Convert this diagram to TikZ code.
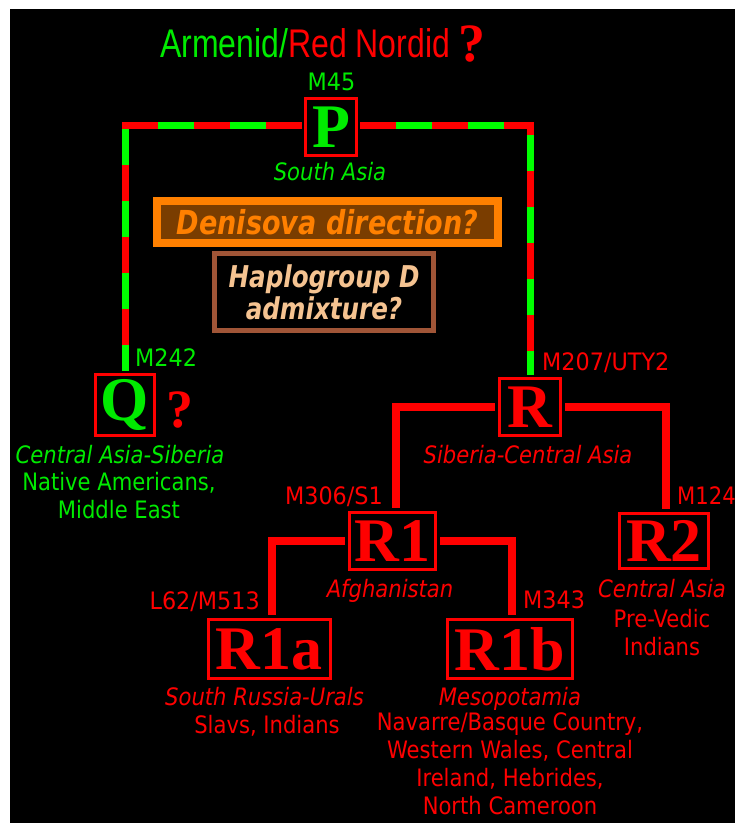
\documentclass[tikz,border=0pt]{standalone}
\usepackage{fontspec}
\setmainfont{DejaVu Sans}
\newfontfamily\labf{DejaVu Sans}[FakeStretch=0.88]
\newfontfamily\mutf{DejaVu Sans}[FakeStretch=0.93]
\newfontfamily\boldf{DejaVu Sans}[FakeStretch=0.82]
\newfontfamily\titf{Liberation Sans}[FakeStretch=0.8]
\newfontfamily\serf{Liberation Serif}
\definecolor{lgreen}{RGB}{0,255,0}
\definecolor{tgreen}{RGB}{0,235,0}
\definecolor{lred}{RGB}{255,0,0}
\definecolor{dorange}{RGB}{255,128,0}
\definecolor{dbrown}{RGB}{122,61,0}
\definecolor{hbrown}{RGB}{160,85,55}
\definecolor{htan}{RGB}{245,195,145}
\begin{document}
\begin{tikzpicture}[x=1pt,y=-1pt,
  hbox/.style={draw=lred, line width=3pt, inner sep=0pt,
    font=\serf\bfseries\fontsize{62}{62}\selectfont},
  lab/.style={font=\labf\fontsize{24}{28}\selectfont, anchor=base, inner sep=0pt, align=center},
  ilab/.style={lab, font=\labf\itshape\fontsize{24}{28}\selectfont},
  mlab/.style={lab, font=\mutf\fontsize{24}{28}\selectfont},
  dline/.style={line width=7pt, line cap=butt, line join=miter, shorten <=2pt, shorten >=2pt},
  reddash/.style={dline, draw=lred},
  greendash/.style={dline, draw=lgreen, dash pattern=on 36pt off 36pt, dash phase=36pt},
  tline/.style={draw=lred, line width=8pt, line cap=butt, line join=miter,
    shorten <=3pt, shorten >=3pt},
  qmark/.style={font=\serf\bfseries\fontsize{54}{54}\selectfont, text=lred, inner sep=0pt, anchor=base}
]
\useasboundingbox (0,0) rectangle (735,823);
\fill[white] (0,0) rectangle (735,823);
\fill[black] (10,9) rectangle (735,823);

% title
\node[anchor=base west, inner sep=0pt, font=\titf\fontsize{40}{40}\selectfont] (title) at (160,57)
  {\textcolor{tgreen}{Armenid/}\textcolor{lred}{Red Nordid}};
\node[qmark] (tq) at (471.5,61) {?};

% haplogroup boxes
\node[hbox, minimum width=51pt, minimum height=57pt, text=tgreen] (P) at (331,127) {P};
\node[hbox, minimum width=59pt, minimum height=61pt, text=tgreen] (Q) at (125,405) {Q};
\node[hbox, minimum width=61pt, minimum height=57pt, text=lred] (R) at (530,407) {R};
\node[hbox, minimum width=86pt, minimum height=57pt, text=lred] (R1) at (392.5,541) {R1};
\node[hbox, minimum width=89pt, minimum height=55pt, text=lred] (R2) at (664,541) {R2};
\node[hbox, minimum width=122pt, minimum height=59pt, text=lred] (R1a) at (269,649) {R1a};
\node[hbox, minimum width=125pt, minimum height=59pt, text=lred] (R1b) at (510,649) {R1b};

% question boxes
\node[draw=dorange, fill=dbrown, line width=8pt, minimum width=341pt, minimum height=42pt,
  inner sep=0pt, text=dorange, font=\boldf\bfseries\itshape\fontsize{33}{33}\selectfont]
  (den) at (327.5,222) {Denisova direction?};
\node[draw=hbrown, fill=black, line width=5pt, minimum width=219pt, minimum height=77pt,
  inner sep=0pt, text=htan, align=center, font=\boldf\bfseries\itshape\fontsize{30}{32}\selectfont]
  (hap) at (324,292) {Haplogroup D\\admixture?};

% dashed connectors P -> Q, P -> R
\coordinate (pl) at (125.5,125);
\coordinate (pr) at (530,125);
\draw[reddash] (P.west |- pl) -- (pl) -- (pl |- Q.north);
\draw[reddash] (P.east |- pr) -- (pr) -- (pr |- R.north);
\draw[greendash] (P.west |- pl) -- (pl) -- (pl |- Q.north);
\draw[greendash] (P.east |- pr) -- (pr) -- (pr |- R.north);

% red tree connectors
\coordinate (rl) at (396,407);
\coordinate (rr) at (665.5,407);
\draw[tline] (R.west) -- (rl) -- (rl |- R1.north);
\draw[tline] (R.east) -- (rr) -- (rr |- R2.north);
\coordinate (sl) at (272,541);
\coordinate (sr) at (512,541);
\draw[tline] (R1.west) -- (sl) -- (sl |- R1a.north);
\draw[tline] (R1.east) -- (sr) -- (sr |- R1b.north);

% mutation labels
\node[mlab, text=tgreen] (m45) at (331.5,90) {M45};
\node[mlab, text=tgreen, anchor=base west] (m242) at (135,366) {M242};
\node[mlab, text=lred, anchor=base west] (m207) at (542,370) {M207/UTY2};
\node[mlab, text=lred, anchor=base east] (m306) at (383,504) {M306/S1};
\node[lab, text=lred, anchor=base west] (m124) at (677,504) {M124};
\node[mlab, text=lred, anchor=base east] (l62) at (260,609) {L62/M513};
\node[mlab, text=lred, anchor=base west] (m343) at (523,608) {M343};

\node[qmark] (qq) at (180,427) {?};

% region labels (multi-line nodes: base = last line)
\node[ilab, text=tgreen] (pa) at (330,180) {South Asia};
\node[ilab, text=tgreen] (qa) at (120,463) {Central Asia-Siberia};
\node[lab, text=tgreen] (qb) at (119,518) {Native Americans,\\Middle East};
\node[ilab, text=lred] (ra) at (528,463) {Siberia-Central Asia};
\node[ilab, text=lred] (r1r) at (390,597) {Afghanistan};
\node[ilab, text=lred] (r2a) at (662,597) {Central Asia};
\node[lab, text=lred] (r2b) at (662,655) {Pre-Vedic\\Indians};
\node[ilab, text=lred] (r1aa) at (264.5,705) {South Russia-Urals};
\node[lab, text=lred] (r1ab) at (267,733) {Slavs, Indians};
\node[ilab, text=lred] (r1ba) at (510,705) {Mesopotamia};
\node[lab, text=lred] (r1bb) at (510,814) {Navarre/Basque Country,\\Western Wales, Central\\Ireland, Hebrides,\\North Cameroon};
\end{tikzpicture}
\end{document}
